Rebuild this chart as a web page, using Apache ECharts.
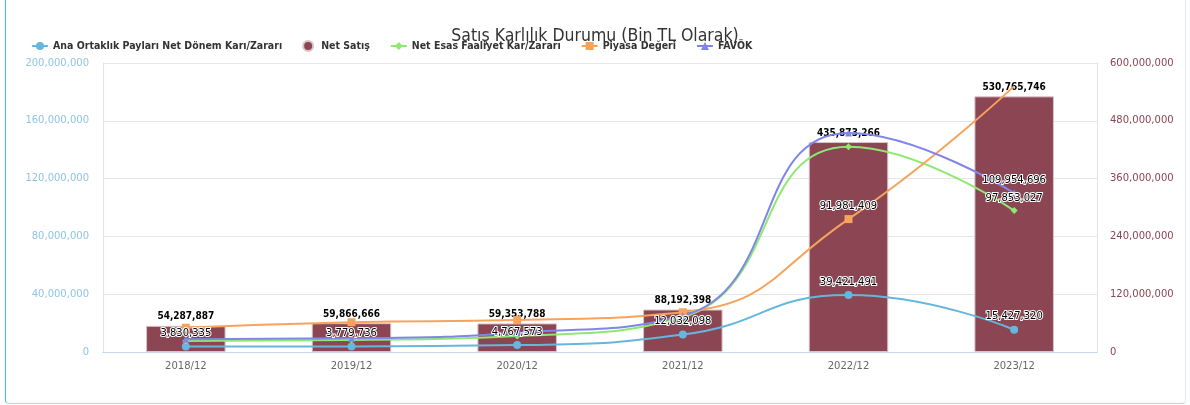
<!DOCTYPE html>
<html>
<head>
<meta charset="utf-8">
<script src="https://cdn.jsdelivr.net/npm/echarts@6/dist/echarts.min.js"></script>
<style>
    html, body { margin: 0; padding: 0; background: #fff; }
    #frame {
        position: absolute; left: 5px; top: -10px; width: 1179px; height: 412px;
        border: 1px solid #a6dbe3; border-left-color: #3ec1d3; border-right-color: #d5eff3;
        border-radius: 4px;
    }
    #main { position: absolute; left: 0; top: 0; width: 1190px; height: 405px; }
</style>
</head>
<body>
<div id="frame"></div>
<div id="main"></div>
<script>
const categories = ['2018/12', '2019/12', '2020/12', '2021/12', '2022/12', '2023/12']
const anaOrtaklik = [3830335, 3779736, 4767573, 12032098, 39421491, 15427320]
const netSatis = [54287887, 59866666, 59353788, 88192398, 435873266, 530765746]
const netEsas = [7600000, 8300000, 11100000, 24200000, 142100000, 97853027]
const piyasaDegeri = [16800000, 20600000, 22100000, 27500000, 91981409, 184000000]
const favok = [8800000, 9500000, 13400000, 25100000, 151600000, 109954696]
const leftTicks = [0, 40000000, 80000000, 120000000, 160000000, 200000000]
const rightTicks = [0, 120000000, 240000000, 360000000, 480000000, 600000000]

// which points keep a visible label (the rest were hidden by overlap)
const anaLabels = [1, 1, 1, 1, 1, 1]
const netEsasLabels = [0, 0, 0, 0, 0, 1]
const piyasaLabels = [0, 0, 0, 0, 1, 0]
const favokLabels = [0, 0, 0, 0, 0, 1]
// last market value point sits under the bar label, no marker there
const piyasaMarkers = [1, 1, 1, 1, 1, 0]

const numberFormatter = (v) => Number(v).toLocaleString('en-US')
const font = 'DejaVu Sans'

const lineLabel = {
    show: true,
    position: 'top',
    distance: 4,
    color: '#000',
    fontFamily: font,
    fontSize: 10,
    textBorderColor: '#fff',
    textBorderWidth: 2,
    formatter: (p) => numberFormatter(p.value),
}

const withLabels = (values, flags, markers) =>
    values.map((v, i) => {
        const item = { value: v, label: { show: !!flags[i] } }
        if (markers && !markers[i]) item.symbol = 'none'
        return item
    })

const lineSeries = (name, values, flags, color, symbol, size, markers) => ({
    name,
    type: 'line',
    yAxisIndex: 0,
    smooth: true,
    symbol,
    symbolSize: size,
    showAllSymbol: true,
    z: 3,
    lineStyle: { color, width: 2 },
    itemStyle: { color },
    label: lineLabel,
    data: withLabels(values, flags, markers),
})

const chart = echarts.init(document.getElementById('main'))

chart.setOption({
    animation: false,
    title: {
        text: 'Satış Karlılık Durumu (Bin TL Olarak)',
        left: 'center',
        top: 22,
        textStyle: {
            color: '#333',
            fontFamily: 'DejaVu Sans Condensed',
            fontSize: 17.5,
            fontWeight: 'normal',
        },
    },
    legend: {
        left: 26,
        top: 35,
        itemWidth: 16,
        itemHeight: 10,
        itemGap: 20,
        data: [
            'Ana Ortaklık Payları Net Dönem Karı/Zararı',
            { name: 'Net Satış', icon: 'circle' },
            'Net Esas Faaliyet Kar/Zararı',
            'Piyasa Değeri',
            'FAVÖK',
        ],
        textStyle: {
            color: '#333',
            fontFamily: 'DejaVu Sans Condensed',
            fontWeight: 'bold',
            fontSize: 10.5,
        },
    },
    grid: { left: 103, right: 93, top: 63, bottom: 53 },
    xAxis: {
        type: 'category',
        data: categories,
        axisLine: { lineStyle: { color: '#ccd6eb' } },
        axisTick: { show: false },
        axisLabel: { color: '#666', fontFamily: font, fontSize: 10, margin: 9 },
    },
    yAxis: [
        {
            type: 'value',
            min: leftTicks[0],
            max: leftTicks[leftTicks.length - 1],
            interval: leftTicks[1] - leftTicks[0],
            axisLine: { show: true, lineStyle: { color: '#e0e6f1' } },
            axisTick: { show: false },
            splitLine: { lineStyle: { color: '#e6e6e6' } },
            axisLabel: {
                color: '#8fc4e6',
                fontFamily: font,
                fontSize: 10,
                margin: 14,
                formatter: numberFormatter,
            },
        },
        {
            type: 'value',
            min: rightTicks[0],
            max: rightTicks[rightTicks.length - 1],
            interval: rightTicks[1] - rightTicks[0],
            axisLine: { show: true, lineStyle: { color: '#e0e6f1' } },
            axisTick: { show: false },
            splitLine: { show: false },
            axisLabel: {
                color: '#8b4553',
                fontFamily: font,
                fontSize: 10,
                margin: 13,
                formatter: numberFormatter,
            },
        },
    ],
    series: [
        {
            name: 'Net Satış',
            type: 'bar',
            yAxisIndex: 1,
            barWidth: '48%',
            z: 2,
            itemStyle: { color: '#8b4553', borderColor: '#d8c4c8', borderWidth: 1 },
            label: {
                show: true,
                position: 'top',
                distance: 4,
                color: '#000',
                fontFamily: 'DejaVu Sans Condensed',
                fontWeight: 'bold',
                fontSize: 10,
                textBorderColor: '#fff',
                textBorderWidth: 2,
                formatter: (p) => numberFormatter(p.value),
            },
            labelLayout: { moveOverlap: false },
            data: netSatis,
        },
        lineSeries('Ana Ortaklık Payları Net Dönem Karı/Zararı', anaOrtaklik, anaLabels, '#66b6dd', 'circle', 8),
        lineSeries('Net Esas Faaliyet Kar/Zararı', netEsas, netEsasLabels, '#8ee872', 'diamond', 7),
        lineSeries('Piyasa Değeri', piyasaDegeri, piyasaLabels, '#f7a35c', 'rect', 8, piyasaMarkers),
        lineSeries('FAVÖK', favok, favokLabels, '#8085e9', 'triangle', 7),
    ],
})
</script>
</body>
</html>
